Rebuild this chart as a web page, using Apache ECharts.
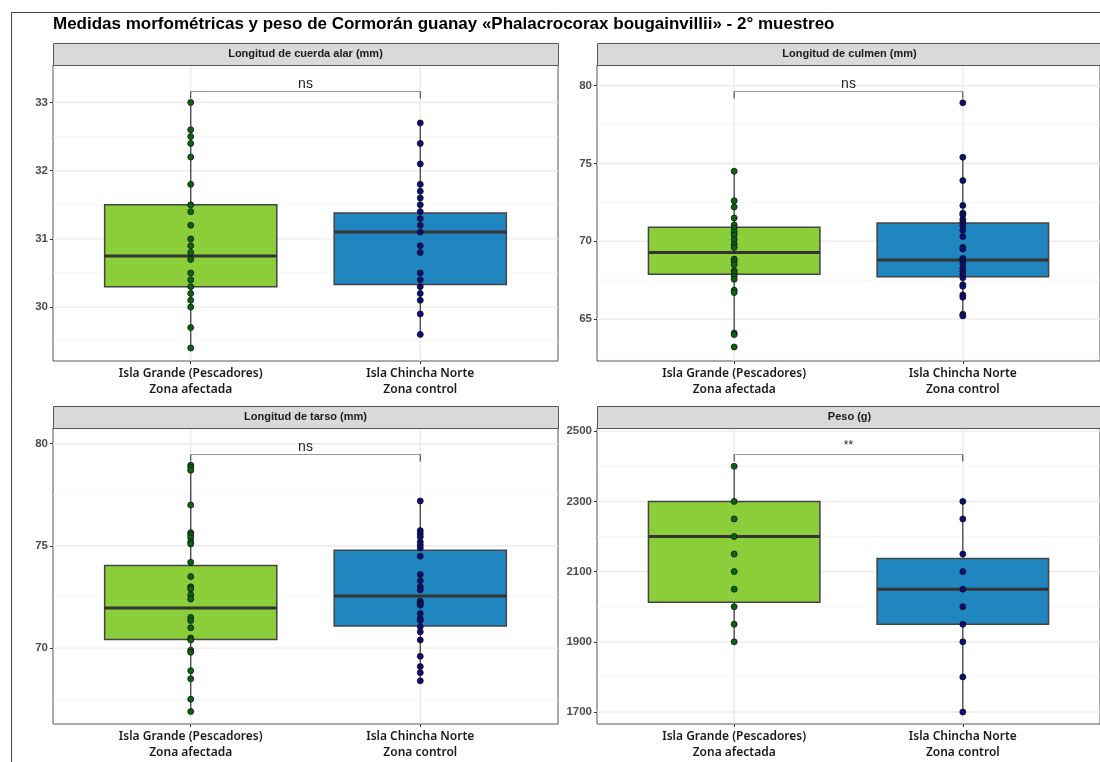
<!DOCTYPE html>
<html>
<head>
<meta charset="utf-8">
<script src="https://cdn.jsdelivr.net/npm/echarts@6/dist/echarts.min.js"></script>
<style>
  html, body { margin: 0; padding: 0; background: #fff; }
  #main { width: 1100px; height: 762px; }
</style>
</head>
<body>
<div id="main"></div>
<script>
// grupos (eje x)
var groups = ['Isla Grande (Pescadores)\nZona afectada', 'Isla Chincha Norte\nZona control']
var fills = ['#8BCE39', '#1F86C0']
var dotColors = ['#0A6410', '#0C0C7A']

var panelTitles = ['Longitud de cuerda alar (mm)', 'Longitud de culmen (mm)', 'Longitud de tarso (mm)', 'Peso (g)']

// cuerda alar
var alaAfectada = [33.0, 32.6, 32.5, 32.4, 32.2, 31.8, 31.5, 31.4, 31.2, 31.0, 30.9, 30.8, 30.7, 30.5, 30.4, 30.3, 30.2, 30.1, 30.0, 29.7, 29.4]
var alaControl = [32.7, 32.4, 32.1, 31.8, 31.7, 31.6, 31.5, 31.4, 31.3, 31.2, 31.1, 30.9, 30.8, 30.5, 30.4, 30.3, 30.2, 30.1, 29.9, 29.6]
var alaBox = [[29.4, 30.3, 30.75, 31.5, 33.0], [29.6, 30.33, 31.1, 31.38, 32.7]]
var alaTicks = [30, 31, 32, 33]
var alaMinor = [29.5, 30.5, 31.5, 32.5, 33.5]

// culmen
var culmenAfectada = [74.5, 72.6, 72.2, 71.5, 71.05, 70.85, 70.6, 70.4, 70.1, 69.8, 69.6, 68.85, 68.7, 68.5, 68.1, 67.95, 67.75, 67.55, 66.85, 66.7, 64.1, 64.0, 63.2]
var culmenControl = [78.9, 75.4, 73.9, 72.3, 71.8, 71.7, 71.4, 71.2, 71.0, 70.7, 70.3, 69.6, 69.5, 68.9, 68.75, 68.55, 68.25, 68.05, 67.85, 67.65, 67.2, 67.1, 66.55, 66.4, 65.3, 65.2]
var culmenBox = [[64.0, 67.88, 69.27, 70.9, 74.5], [65.2, 67.71, 68.8, 71.18, 75.4]]
var culmenTicks = [65, 70, 75, 80]
var culmenMinor = [62.5, 67.5, 72.5, 77.5]

// tarso
var tarsoAfectada = [78.95, 78.85, 78.7, 77.0, 75.65, 75.55, 75.4, 75.2, 75.1, 74.2, 73.5, 73.0, 72.9, 72.6, 72.4, 71.5, 71.35, 71.0, 70.5, 70.4, 69.9, 69.8, 68.9, 68.5, 67.5, 66.9]
var tarsoControl = [77.2, 75.75, 75.6, 75.45, 75.2, 75.05, 74.9, 74.5, 73.6, 73.3, 73.0, 72.85, 72.3, 72.2, 72.1, 71.7, 71.45, 71.35, 71.05, 70.8, 70.4, 69.6, 69.1, 68.8, 68.4]
var tarsoBox = [[66.9, 70.42, 71.96, 74.04, 78.95], [68.4, 71.08, 72.55, 74.79, 77.2]]
var tarsoTicks = [70, 75, 80]
var tarsoMinor = [67.5, 72.5, 77.5]

// peso
var pesoAfectada = [2400, 2300, 2250, 2200, 2150, 2100, 2050, 2000, 1950, 1900]
var pesoControl = [2300, 2250, 2150, 2100, 2050, 2000, 1950, 1900, 1800, 1700]
var pesoBox = [[1900, 2013, 2200, 2300, 2400], [1700, 1950, 2050, 2137, 2300]]
var pesoTicks = [1700, 1900, 2100, 2300, 2500]
var pesoMinor = [1800, 2000, 2200, 2400]

// rango de cada eje y, altura del corchete y etiqueta de significancia
var yRanges = [[29.21, 33.55], [62.30, 81.33], [66.29, 80.77], [1666, 2509]]
var bracketY = [33.176, 79.68, 79.51, 2435]
var signif = ['ns', 'ns', 'ns', '**']

var panels = [
  { a: alaAfectada, c: alaControl, box: alaBox, ticks: alaTicks, minor: alaMinor },
  { a: culmenAfectada, c: culmenControl, box: culmenBox, ticks: culmenTicks, minor: culmenMinor },
  { a: tarsoAfectada, c: tarsoControl, box: tarsoBox, ticks: tarsoTicks, minor: tarsoMinor },
  { a: pesoAfectada, c: pesoControl, box: pesoBox, ticks: pesoTicks, minor: pesoMinor },
]

var layout = [
  { left: 53, top: 65 },
  { left: 597, top: 65 },
  { left: 53, top: 428 },
  { left: 597, top: 428 },
]
var panelW = 505
var panelH = 296
var stripH = 22

var myChart = echarts.init(document.getElementById('main'))

function gridLineRender(params, api) {
  var cs = params.coordSys
  var v = api.value(0)
  var dir = api.value(2)
  var major = api.value(3)
  var p = api.coord([v, v])
  var style = { stroke: major ? '#EBEBEB' : '#F4F4F4', lineWidth: major ? 1.4 : 0.8 }
  if (dir === 0) {
    return { type: 'line', shape: { x1: cs.x, y1: p[1], x2: cs.x + cs.width, y2: p[1] }, style: style, silent: true }
  }
  return { type: 'line', shape: { x1: p[0], y1: cs.y, x2: p[0], y2: cs.y + cs.height }, style: style, silent: true }
}

function boxRender(params, api) {
  var x = api.value(0)
  var lo = api.coord([x, api.value(1)])
  var q1 = api.coord([x, api.value(2)])
  var md = api.coord([x, api.value(3)])
  var q3 = api.coord([x, api.value(4)])
  var hi = api.coord([x, api.value(5)])
  var half = api.size([0.75, 0])[0] / 2
  var fill = fills[params.dataIndex]
  return {
    type: 'group',
    children: [
      { type: 'line', shape: { x1: lo[0], y1: lo[1], x2: q1[0], y2: q1[1] }, style: { stroke: '#444', lineWidth: 1.3 } },
      { type: 'line', shape: { x1: q3[0], y1: q3[1], x2: hi[0], y2: hi[1] }, style: { stroke: '#444', lineWidth: 1.3 } },
      { type: 'rect', shape: { x: q1[0] - half, y: q3[1], width: half * 2, height: q1[1] - q3[1] }, style: { fill: fill, stroke: '#444', lineWidth: 1.5 } },
      { type: 'line', shape: { x1: md[0] - half, y1: md[1], x2: md[0] + half, y2: md[1] }, style: { stroke: '#333', lineWidth: 3 } },
    ],
  }
}

function bracketRender(params, api) {
  var p1 = api.coord([api.value(0), api.value(2)])
  var p2 = api.coord([api.value(1), api.value(2)])
  var y = Math.round(p1[1]) + 0.5
  var label = signif[api.value(3)]
  return {
    type: 'group',
    children: [
      { type: 'line', shape: { x1: p1[0], y1: y, x2: p2[0], y2: y }, style: { stroke: '#9A9A9A', lineWidth: 1 } },
      { type: 'line', shape: { x1: p1[0], y1: y, x2: p1[0], y2: y + 7 }, style: { stroke: '#333', lineWidth: 1 } },
      { type: 'line', shape: { x1: p2[0], y1: y, x2: p2[0], y2: y + 7 }, style: { stroke: '#333', lineWidth: 1 } },
      {
        type: 'text',
        x: (p1[0] + p2[0]) / 2,
        y: label === '**' ? y - 3 : y,
        style: {
          text: label,
          fill: '#222',
          font: (label === '**' ? '12px' : '14px') + ' "Liberation Sans", Arial, sans-serif',
          align: 'center',
          verticalAlign: 'bottom',
        },
      },
    ],
  }
}

var grid = []
var xAxis = []
var yAxis = []
var series = []
var graphic = []

panels.forEach(function (pn, i) {
  var L = layout[i]
  grid.push({ left: L.left, top: L.top, width: panelW, height: panelH, show: true, borderColor: '#555', borderWidth: 1, backgroundColor: '#fff' })
  xAxis.push({
    gridIndex: i,
    type: 'value',
    min: 0.4,
    max: 2.6,
    axisLine: { show: false },
    splitLine: { show: false },
    axisTick: { show: true, customValues: [1, 2], length: 3, lineStyle: { color: '#333' } },
    axisLabel: {
      customValues: [1, 2],
      formatter: function (v) { return groups[Math.round(v) - 1] },
      margin: 5,
      color: '#1A1A1A',
      fontFamily: '"Noto Sans", sans-serif',
      fontWeight: 600,
      fontSize: 12,
      lineHeight: 16,
    },
  })
  yAxis.push({
    gridIndex: i,
    type: 'value',
    min: yRanges[i][0],
    max: yRanges[i][1],
    axisLine: { show: false },
    splitLine: { show: false },
    axisTick: { show: true, customValues: pn.ticks, length: 3, lineStyle: { color: '#333' } },
    axisLabel: {
      customValues: pn.ticks,
      formatter: function (v) { return String(v) },
      margin: 5,
      color: '#4D4D4D',
      fontFamily: '"Liberation Sans", Arial, sans-serif',
      fontWeight: 'bold',
      fontSize: 11.5,
    },
  })

  // lineas de cuadricula
  var gl = []
  pn.minor.forEach(function (v) { gl.push([v, v, 0, 0]) })
  pn.ticks.forEach(function (v) { gl.push([v, v, 0, 1]) })
  ;[1, 2].forEach(function (v) { gl.push([v, v, 1, 1]) })
  series.push({ type: 'custom', xAxisIndex: i, yAxisIndex: i, renderItem: gridLineRender, data: gl, z: 1, silent: true, clip: true })

  series.push({
    type: 'custom',
    xAxisIndex: i,
    yAxisIndex: i,
    renderItem: boxRender,
    data: pn.box.map(function (b, k) { return [k + 1].concat(b) }),
    encode: { x: 0, y: [1, 2, 3, 4, 5] },
    z: 2,
    silent: true,
  })

  ;[pn.a, pn.c].forEach(function (vals, k) {
    series.push({
      type: 'scatter',
      xAxisIndex: i,
      yAxisIndex: i,
      symbolSize: 6,
      data: vals.map(function (v) { return [k + 1, v] }),
      itemStyle: { color: dotColors[k], borderColor: '#111', borderWidth: 0.8, opacity: 1 },
      z: 3,
      silent: true,
    })
  })

  series.push({
    type: 'custom',
    xAxisIndex: i,
    yAxisIndex: i,
    renderItem: bracketRender,
    data: [[1, 2, bracketY[i], i]],
    encode: { x: [0, 1], y: 2 },
    z: 4,
    silent: true,
    clip: false,
  })

  // franja de titulo del panel
  graphic.push({
    type: 'rect',
    left: L.left,
    top: L.top - stripH,
    shape: { width: panelW, height: stripH },
    style: { fill: '#D9D9D9', stroke: '#555', lineWidth: 1 },
    z: 10,
  })
  graphic.push({
    type: 'text',
    x: L.left + panelW / 2,
    y: L.top - stripH / 2,
    style: {
      text: panelTitles[i],
      fill: '#1A1A1A',
      font: 'bold 11px "Liberation Sans", Arial, sans-serif',
      align: 'center',
      verticalAlign: 'middle',
    },
    z: 11,
  })
})

// marco exterior
graphic.push({
  type: 'rect',
  left: 9,
  top: 10,
  shape: { width: 1200, height: 900 },
  style: { fill: 'none', stroke: '#444', lineWidth: 1 },
  z: 0,
})

myChart.setOption({
  animation: false,
  backgroundColor: '#fff',
  title: {
    text: 'Medidas morfométricas y peso de Cormorán guanay «Phalacrocorax bougainvillii» - 2° muestreo',
    left: 53,
    top: 16,
    padding: 0,
    textStyle: {
      color: '#000',
      fontFamily: '"Liberation Sans", Arial, sans-serif',
      fontWeight: 'bold',
      fontSize: 17,
    },
  },
  grid: grid,
  xAxis: xAxis,
  yAxis: yAxis,
  series: series,
  graphic: graphic,
})
</script>
</body>
</html>
